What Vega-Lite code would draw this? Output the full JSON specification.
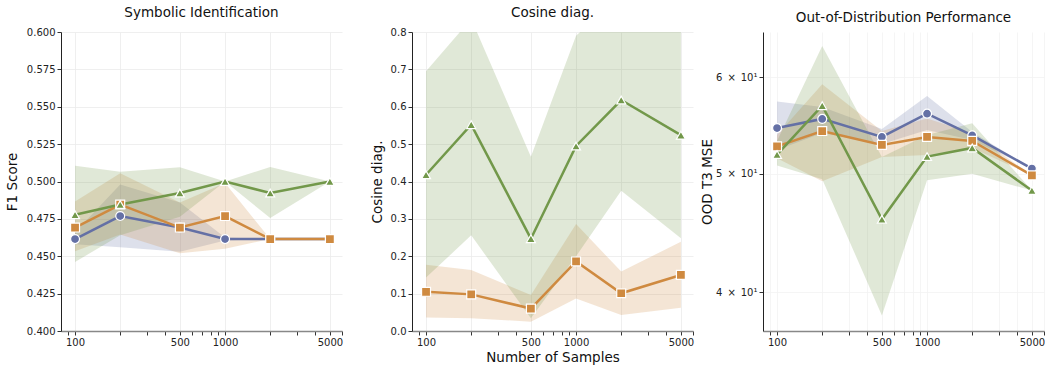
{
  "$schema": "https://vega.github.io/schema/vega-lite/v6.json",
  "padding": {"left": 5, "top": 5, "right": 1, "bottom": 1},
  "background": "white",
  "bounds": "flush",
  "spacing": 70,
  "config": {
    "font": "DejaVu Sans",
    "view": {"stroke": null},
    "title": {"fontSize": 13.5, "fontWeight": "normal", "color": "#111", "offset": 8},
    "axis": {
      "labelFontSize": 10, "labelColor": "#222", "titleFontSize": 13.5, "titleFontWeight": "normal",
      "titleColor": "#111", "tickColor": "#333", "tickSize": 4, "labelPadding": 2, "labelOverlap": false,
      "gridColor": "#ebebeb", "gridWidth": 0.8
    }
  },
  "datasets": {
    "d": [
      {"panel": "f1", "model": "A", "n": 100, "mean": 0.4615, "lo": 0.458, "hi": 0.466},
      {"panel": "f1", "model": "A", "n": 200, "mean": 0.4769, "lo": 0.456, "hi": 0.498},
      {"panel": "f1", "model": "A", "n": 500, "mean": 0.4692, "lo": 0.453, "hi": 0.486},
      {"panel": "f1", "model": "A", "n": 1000, "mean": 0.4615, "lo": 0.4605, "hi": 0.4625},
      {"panel": "f1", "model": "A", "n": 2000, "mean": 0.4615, "lo": 0.4615, "hi": 0.4615},
      {"panel": "f1", "model": "A", "n": 5000, "mean": 0.4615, "lo": 0.4615, "hi": 0.4615},
      {"panel": "f1", "model": "B", "n": 100, "mean": 0.4692, "lo": 0.4533, "hi": 0.4867},
      {"panel": "f1", "model": "B", "n": 200, "mean": 0.4846, "lo": 0.4645, "hi": 0.5056},
      {"panel": "f1", "model": "B", "n": 500, "mean": 0.4692, "lo": 0.452, "hi": 0.486},
      {"panel": "f1", "model": "B", "n": 1000, "mean": 0.4769, "lo": 0.455, "hi": 0.499},
      {"panel": "f1", "model": "B", "n": 2000, "mean": 0.4615, "lo": 0.4615, "hi": 0.4615},
      {"panel": "f1", "model": "B", "n": 5000, "mean": 0.4615, "lo": 0.4615, "hi": 0.4615},
      {"panel": "f1", "model": "C", "n": 100, "mean": 0.4777, "lo": 0.4462, "hi": 0.5105},
      {"panel": "f1", "model": "C", "n": 200, "mean": 0.4846, "lo": 0.464, "hi": 0.5065},
      {"panel": "f1", "model": "C", "n": 500, "mean": 0.4923, "lo": 0.4765, "hi": 0.5095},
      {"panel": "f1", "model": "C", "n": 1000, "mean": 0.5, "lo": 0.5, "hi": 0.5},
      {"panel": "f1", "model": "C", "n": 2000, "mean": 0.4923, "lo": 0.4756, "hi": 0.5097},
      {"panel": "f1", "model": "C", "n": 5000, "mean": 0.5, "lo": 0.5, "hi": 0.5},
      {"panel": "cos", "model": "B", "n": 100, "mean": 0.105, "lo": 0.036, "hi": 0.177},
      {"panel": "cos", "model": "B", "n": 200, "mean": 0.098, "lo": 0.034, "hi": 0.163},
      {"panel": "cos", "model": "B", "n": 500, "mean": 0.06, "lo": 0.025, "hi": 0.096},
      {"panel": "cos", "model": "B", "n": 1000, "mean": 0.186, "lo": 0.087, "hi": 0.286},
      {"panel": "cos", "model": "B", "n": 2000, "mean": 0.101, "lo": 0.043, "hi": 0.159},
      {"panel": "cos", "model": "B", "n": 5000, "mean": 0.15, "lo": 0.062, "hi": 0.239},
      {"panel": "cos", "model": "C", "n": 100, "mean": 0.418, "lo": 0.143, "hi": 0.695},
      {"panel": "cos", "model": "C", "n": 200, "mean": 0.552, "lo": 0.256, "hi": 0.835},
      {"panel": "cos", "model": "C", "n": 500, "mean": 0.247, "lo": 0.034, "hi": 0.466},
      {"panel": "cos", "model": "C", "n": 1000, "mean": 0.495, "lo": 0.2, "hi": 0.79},
      {"panel": "cos", "model": "C", "n": 2000, "mean": 0.618, "lo": 0.375, "hi": 0.9},
      {"panel": "cos", "model": "C", "n": 5000, "mean": 0.524, "lo": 0.248, "hi": 0.86},
      {"panel": "ood", "model": "A", "n": 100, "mean": 54.5, "lo": 52.3, "hi": 57.3},
      {"panel": "ood", "model": "A", "n": 200, "mean": 55.45, "lo": 54.0, "hi": 56.7},
      {"panel": "ood", "model": "A", "n": 500, "mean": 53.6, "lo": 52.9, "hi": 54.4},
      {"panel": "ood", "model": "A", "n": 1000, "mean": 56.0, "lo": 54.3, "hi": 57.9},
      {"panel": "ood", "model": "A", "n": 2000, "mean": 53.75, "lo": 53.3, "hi": 54.1},
      {"panel": "ood", "model": "A", "n": 5000, "mean": 50.5, "lo": 50.5, "hi": 50.5},
      {"panel": "ood", "model": "B", "n": 100, "mean": 52.65, "lo": 51.5, "hi": 53.8},
      {"panel": "ood", "model": "B", "n": 200, "mean": 54.2, "lo": 49.3, "hi": 59.2},
      {"panel": "ood", "model": "B", "n": 500, "mean": 52.8, "lo": 51.6, "hi": 54.2},
      {"panel": "ood", "model": "B", "n": 1000, "mean": 53.6, "lo": 51.8, "hi": 55.5},
      {"panel": "ood", "model": "B", "n": 2000, "mean": 53.2, "lo": 52.5, "hi": 54.0},
      {"panel": "ood", "model": "B", "n": 5000, "mean": 49.85, "lo": 49.85, "hi": 49.85},
      {"panel": "ood", "model": "C", "n": 100, "mean": 51.85, "lo": 50.8, "hi": 53.2},
      {"panel": "ood", "model": "C", "n": 200, "mean": 56.85, "lo": 49.5, "hi": 63.6},
      {"panel": "ood", "model": "C", "n": 500, "mean": 45.9, "lo": 38.3, "hi": 51.6},
      {"panel": "ood", "model": "C", "n": 1000, "mean": 51.65, "lo": 49.4, "hi": 53.8},
      {"panel": "ood", "model": "C", "n": 2000, "mean": 52.5, "lo": 50.0, "hi": 55.0},
      {"panel": "ood", "model": "C", "n": 5000, "mean": 48.45, "lo": 48.45, "hi": 48.45}
    ]
  },
  "hconcat": [
    {
      "width": 281, "height": 299,
      "title": "Symbolic Identification",
      "data": {"name": "d"},
      "transform": [{"filter": "datum.panel == 'f1'"}],
      "encoding": {
        "x": {"field": "n", "type": "quantitative", "title": null,
          "scale": {"type": "log", "domain": [80.6, 6020], "nice": false},
          "axis": {"values": [90, 100, 200, 300, 400, 500, 600, 700, 800, 900, 1000, 2000, 3000, 4000, 5000, 6000],
            "labelExpr": "indexof([100,500,1000,5000], datum.value) >= 0 ? datum.value : ''",
            "labelFlush": false, "domainColor": "#888", "domainWidth": 1.6,
            "gridColor": {"condition": {"test": "indexof([100,200,500,1000,2000,5000], datum.value) >= 0", "value": "#ebebeb"}, "value": "rgba(0,0,0,0)"}}},
        "color": {"field": "model", "type": "nominal", "legend": null,
          "scale": {"domain": ["A", "B", "C"], "range": ["#6470a5", "#cf8a40", "#72984a"]}}
      },
      "layer": [
        {"mark": {"type": "area", "opacity": 0.22, "clip": true},
          "encoding": {"y": {"field": "lo", "type": "quantitative", "title": "F1 Score",
            "scale": {"domain": [0.4, 0.6], "nice": false, "zero": false},
            "axis": {"values": [0.4, 0.425, 0.45, 0.475, 0.5, 0.525, 0.55, 0.575, 0.6], "format": ".3f",
              "domainColor": "#222", "minExtent": 42, "maxExtent": 42, "titlePadding": 0}},
            "y2": {"field": "hi"}}},
        {"mark": {"type": "line", "strokeWidth": 2.5, "clip": true},
          "encoding": {"y": {"field": "mean", "type": "quantitative", "title": "F1 Score",
            "axis": {"values": [0.4, 0.425, 0.45, 0.475, 0.5, 0.525, 0.55, 0.575, 0.6], "format": ".3f",
              "domainColor": "#222", "minExtent": 42, "maxExtent": 42, "titlePadding": 0}}}},
        {"mark": {"type": "point", "filled": true, "opacity": 1, "stroke": "white", "strokeWidth": 1.2, "size": 80, "clip": true},
          "encoding": {"y": {"field": "mean", "type": "quantitative", "title": "F1 Score",
            "axis": {"values": [0.4, 0.425, 0.45, 0.475, 0.5, 0.525, 0.55, 0.575, 0.6], "format": ".3f",
              "domainColor": "#222", "minExtent": 42, "maxExtent": 42, "titlePadding": 0}},
            "shape": {"field": "model", "type": "nominal", "legend": null,
              "scale": {"domain": ["A", "B", "C"], "range": ["circle", "square", "triangle-up"]}}}}
      ]
    },
    {
      "width": 281, "height": 299,
      "title": "Cosine diag.",
      "data": {"name": "d"},
      "transform": [{"filter": "datum.panel == 'cos'"}],
      "encoding": {
        "x": {"field": "n", "type": "quantitative", "title": "Number of Samples",
          "scale": {"type": "log", "domain": [80.6, 6020], "nice": false},
          "axis": {"values": [90, 100, 200, 300, 400, 500, 600, 700, 800, 900, 1000, 2000, 3000, 4000, 5000, 6000],
            "labelExpr": "indexof([100,500,1000,5000], datum.value) >= 0 ? datum.value : ''",
            "labelFlush": false, "domainColor": "#888", "domainWidth": 1.6, "titlePadding": 3,
            "gridColor": {"condition": {"test": "indexof([100,200,500,1000,2000,5000], datum.value) >= 0", "value": "#ebebeb"}, "value": "rgba(0,0,0,0)"}}},
        "color": {"field": "model", "type": "nominal", "legend": null,
          "scale": {"domain": ["A", "B", "C"], "range": ["#6470a5", "#cf8a40", "#72984a"]}}
      },
      "layer": [
        {"mark": {"type": "area", "opacity": 0.22, "clip": true},
          "encoding": {"y": {"field": "lo", "type": "quantitative", "title": "Cosine diag.",
            "scale": {"domain": [0, 0.8], "nice": false},
            "axis": {"values": [0, 0.1, 0.2, 0.3, 0.4, 0.5, 0.6, 0.7, 0.8], "format": ".1f",
              "domainColor": "#222", "minExtent": 28, "maxExtent": 28, "titlePadding": 0}},
            "y2": {"field": "hi"}}},
        {"mark": {"type": "line", "strokeWidth": 2.5, "clip": true},
          "encoding": {"y": {"field": "mean", "type": "quantitative", "title": "Cosine diag.",
            "axis": {"values": [0, 0.1, 0.2, 0.3, 0.4, 0.5, 0.6, 0.7, 0.8], "format": ".1f",
              "domainColor": "#222", "minExtent": 28, "maxExtent": 28, "titlePadding": 0}}}},
        {"mark": {"type": "point", "filled": true, "opacity": 1, "stroke": "white", "strokeWidth": 1.2, "size": 80, "clip": true},
          "encoding": {"y": {"field": "mean", "type": "quantitative", "title": "Cosine diag.",
            "axis": {"values": [0, 0.1, 0.2, 0.3, 0.4, 0.5, 0.6, 0.7, 0.8], "format": ".1f",
              "domainColor": "#222", "minExtent": 28, "maxExtent": 28, "titlePadding": 0}},
            "shape": {"field": "model", "type": "nominal", "legend": null,
              "scale": {"domain": ["A", "B", "C"], "range": ["circle", "square", "triangle-up"]}}}}
      ]
    },
    {
      "width": 281, "height": 299,
      "title": "Out-of-Distribution Performance",
      "data": {"name": "d"},
      "transform": [{"filter": "datum.panel == 'ood'"}],
      "encoding": {
        "x": {"field": "n", "type": "quantitative", "title": null,
          "scale": {"type": "log", "domain": [80.6, 6020], "nice": false},
          "axis": {"values": [90, 100, 200, 300, 400, 500, 600, 700, 800, 900, 1000, 2000, 3000, 4000, 5000, 6000],
            "labelExpr": "indexof([100,500,1000,5000], datum.value) >= 0 ? datum.value : ''",
            "labelFlush": false, "domainColor": "#888", "domainWidth": 1.6,
            "gridColor": "#f3f3f3"}},
        "color": {"field": "model", "type": "nominal", "legend": null,
          "scale": {"domain": ["A", "B", "C"], "range": ["#6470a5", "#cf8a40", "#72984a"]}}
      },
      "layer": [
        {"mark": {"type": "area", "opacity": 0.22, "clip": true},
          "encoding": {"y": {"field": "lo", "type": "quantitative", "title": "OOD T3 MSE",
            "scale": {"type": "log", "domain": [37.19, 65.31], "nice": false},
            "axis": {"values": [40, 50, 60], "labelExpr": "format(datum.value/10, 'd') + '\u2002\u00d7\u200210\u00b9'",
              "gridColor": "#f3f3f3", "domainColor": "#222", "minExtent": 49, "maxExtent": 49, "titlePadding": 0}},
            "y2": {"field": "hi"}}},
        {"mark": {"type": "line", "strokeWidth": 2.5, "clip": true},
          "encoding": {"y": {"field": "mean", "type": "quantitative", "title": "OOD T3 MSE",
            "axis": {"values": [40, 50, 60], "labelExpr": "format(datum.value/10, 'd') + '\u2002\u00d7\u200210\u00b9'",
              "gridColor": "#f3f3f3", "domainColor": "#222", "minExtent": 49, "maxExtent": 49, "titlePadding": 0}}}},
        {"mark": {"type": "point", "filled": true, "opacity": 1, "stroke": "white", "strokeWidth": 1.2, "size": 80, "clip": true},
          "encoding": {"y": {"field": "mean", "type": "quantitative", "title": "OOD T3 MSE",
            "axis": {"values": [40, 50, 60], "labelExpr": "format(datum.value/10, 'd') + '\u2002\u00d7\u200210\u00b9'",
              "gridColor": "#f3f3f3", "domainColor": "#222", "minExtent": 49, "maxExtent": 49, "titlePadding": 0}},
            "shape": {"field": "model", "type": "nominal", "legend": null,
              "scale": {"domain": ["A", "B", "C"], "range": ["circle", "square", "triangle-up"]}}}}
      ]
    }
  ]
}
